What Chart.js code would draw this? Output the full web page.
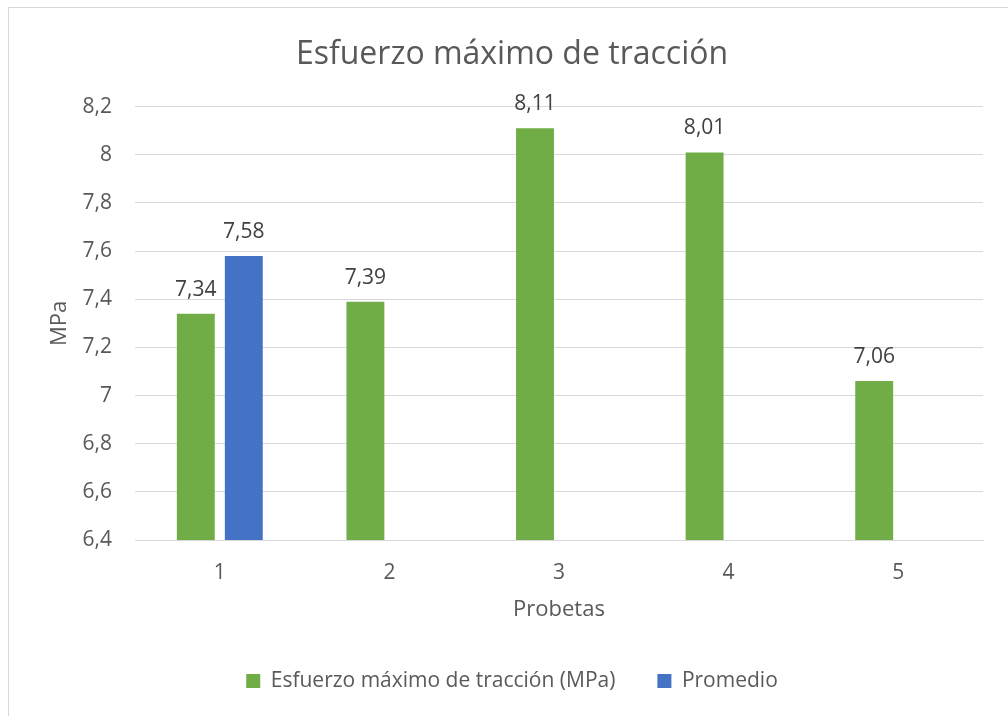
<!DOCTYPE html>
<html>
<head>
<meta charset="utf-8">
<script src="https://cdn.jsdelivr.net/npm/chart.js@4/dist/chart.umd.min.js"></script>
<style>
  html, body { margin: 0; padding: 0; background: #ffffff; }
  #wrap { position: relative; width: 1008px; height: 716px; }
</style>
</head>
<body>
<div id="wrap"><canvas id="c" width="1008" height="716"></canvas></div>
<script>
const categories = ['1', '2', '3', '4', '5'];
const esfuerzoValues = [7.34, 7.39, 8.11, 8.01, 7.06];
const promedioValues = [7.58, null, null, null, null];
const seriesNames = ['Esfuerzo máximo de tracción (MPa)', 'Promedio'];
const yTickMin = 6.4;
const yTickMax = 8.2;
const yTickStep = 0.2;

const FONT = "'Open Sans', sans-serif";

const frame = {
  id: 'frame',
  beforeDraw(chart) {
    const ctx = chart.ctx;
    ctx.save();
    ctx.fillStyle = '#ffffff';
    ctx.fillRect(0, 0, chart.width, chart.height);
    ctx.strokeStyle = '#d9d9d9';
    ctx.lineWidth = 1;
    ctx.strokeRect(8.5, 7.5, 1100, 800);
    ctx.restore();
  }
};

const dataLabels = {
  id: 'dataLabels',
  afterDatasetsDraw(chart) {
    const ctx = chart.ctx;
    ctx.save();
    ctx.font = "21px " + FONT;
    ctx.fillStyle = '#404040';
    ctx.textAlign = 'center';
    ctx.textBaseline = 'alphabetic';
    chart.data.datasets.forEach((ds, di) => {
      const meta = chart.getDatasetMeta(di);
      meta.data.forEach((el, i) => {
        const v = ds.data[i];
        if (v === null || v === undefined) return;
        ctx.fillText(v.toFixed(2).replace('.', ','), el.x, el.y - 18);
      });
    });
    ctx.restore();
  }
};

new Chart(document.getElementById('c'), {
  type: 'bar',
  data: {
    labels: categories,
    datasets: [
      { label: seriesNames[0], data: esfuerzoValues, backgroundColor: '#70AD47' },
      { label: seriesNames[1], data: promedioValues, backgroundColor: '#4472C4' }
    ]
  },
  options: {
    responsive: false,
    animation: false,
    categoryPercentage: 0.566,
    barPercentage: 0.79,
    layout: { padding: { left: 41, right: 25, top: 0, bottom: 14.5 } },
    plugins: {
      tooltip: { enabled: false },
      title: {
        display: true,
        text: 'Esfuerzo máximo de tracción',
        color: '#595959',
        font: { family: FONT, size: 32, weight: 'normal', lineHeight: 1.2 },
        padding: { top: 36, bottom: 32.3 }
      },
      legend: {
        position: 'bottom',
        labels: {
          color: '#595959',
          font: { family: FONT, size: 21 },
          boxWidth: 14,
          boxHeight: 14,
          padding: 42
        }
      }
    },
    scales: {
      x: {
        grid: { display: false },
        border: { display: true, color: '#d9d9d9', width: 1 },
        ticks: { color: '#595959', font: { family: FONT, size: 21 }, padding: 12 },
        title: {
          display: true,
          text: 'Probetas',
          color: '#595959',
          font: { family: FONT, size: 22 },
          padding: { top: 6, bottom: 6 }
        },
        afterFit(scale) { scale.height = 88.5; }
      },
      y: {
        min: yTickMin,
        max: yTickMax,
        grid: { color: '#d9d9d9', lineWidth: 1, drawTicks: false },
        border: { display: false },
        ticks: {
          stepSize: yTickStep,
          color: '#595959',
          font: { family: FONT, size: 21 },
          padding: 23,
          callback: (v) => String(Number(Number(v).toFixed(1))).replace('.', ',')
        },
        title: {
          display: true,
          text: 'MPa',
          color: '#595959',
          font: { family: FONT, size: 22 },
          padding: { top: 6, bottom: 6 }
        },
        afterFit(scale) { scale.width = 94; }
      }
    }
  },
  plugins: [frame, dataLabels]
});
</script>
</body>
</html>
